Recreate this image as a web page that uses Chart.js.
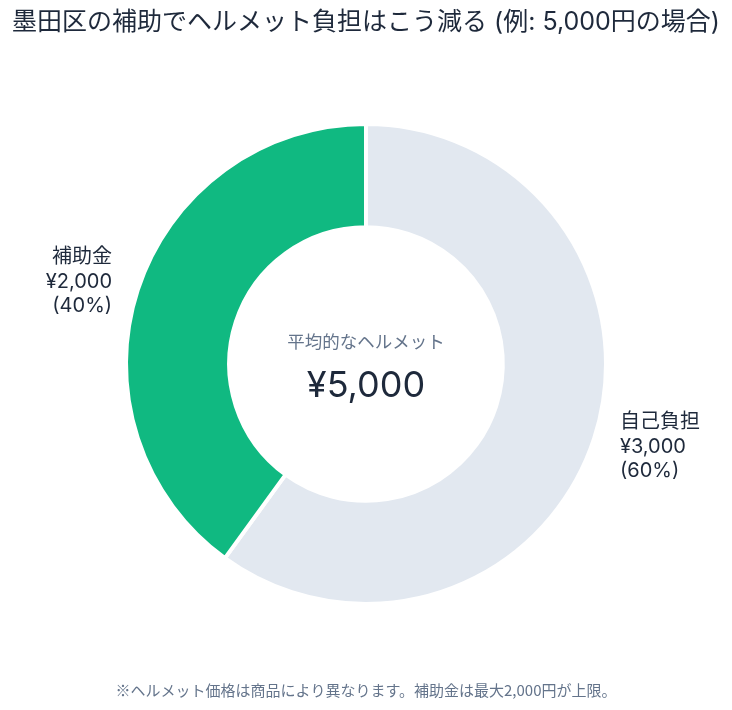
<!DOCTYPE html>
<html lang="ja">
<head>
<meta charset="utf-8">
<title>墨田区の補助でヘルメット負担はこう減る</title>
<script src="https://cdn.jsdelivr.net/npm/chart.js@4.4.1/dist/chart.umd.min.js"></script>
<style>
  html, body { margin: 0; padding: 0; background: #fff; }
  #wrap { width: 732px; height: 710px; }
</style>
</head>
<body>
<div id="wrap"><canvas id="graficoAjuda"></canvas></div>
<script>
// データ（円）
const categorias = ['自己負担', '補助金'];
const valores = [3000, 2000];
const precoMedio = 5000;

const FONTE = "Inter, 'Noto Sans CJK JP', sans-serif";
const corTexto = '#1e293b';
const corSub = '#64748b';

function yen(v) {
  return '¥' + v.toLocaleString('en-US');
}

// 中央のテキスト
const textoCentral = {
  id: 'textoCentral',
  afterDraw(chart) {
    const arc = chart.getDatasetMeta(0).data[0];
    if (!arc) return;
    const { ctx } = chart;
    ctx.save();
    ctx.textAlign = 'center';
    ctx.textBaseline = 'middle';
    ctx.fillStyle = corSub;
    ctx.font = '17.5px ' + FONTE;
    ctx.fillText('平均的なヘルメット', arc.x, arc.y - 21);
    ctx.fillStyle = corTexto;
    ctx.font = '36px ' + FONTE;
    ctx.fillText(yen(precoMedio), arc.x, arc.y + 22);
    ctx.restore();
  }
};

// 外側のラベル（名称・金額・割合）
const rotulosExternos = {
  id: 'rotulosExternos',
  afterDraw(chart) {
    const { ctx } = chart;
    const meta = chart.getDatasetMeta(0);
    const total = valores.reduce((a, b) => a + b, 0);
    ctx.save();
    ctx.font = '20px ' + FONTE;
    ctx.fillStyle = corTexto;
    ctx.textBaseline = 'middle';
    meta.data.forEach((arc, i) => {
      const meio = (arc.startAngle + arc.endAngle) / 2;
      const r = arc.outerRadius + 27;
      const x = arc.x + Math.cos(meio) * r;
      const y = arc.y + Math.sin(meio) * r;
      ctx.textAlign = Math.cos(meio) >= 0 ? 'left' : 'right';
      const linhas = [
        categorias[i],
        yen(valores[i]),
        '(' + Math.round(valores[i] / total * 100) + '%)'
      ];
      linhas.forEach((l, k) => {
        ctx.fillText(l, x, y + (k - 1) * 24.5);
      });
    });
    ctx.restore();
  }
};

const grafico = new Chart(document.getElementById('graficoAjuda'), {
  type: 'doughnut',
  data: {
    labels: categorias,
    datasets: [{
      data: valores,
      backgroundColor: ['#e2e8f0', '#10b981'],
      borderColor: '#ffffff',
      borderWidth: 4,
      hoverOffset: 0
    }]
  },
  options: {
    responsive: true,
    maintainAspectRatio: false,
    animation: false,
    cutout: '57%',
    layout: { padding: { top: 0, bottom: 0, left: 0, right: 0 } },
    plugins: {
      legend: { display: false },
      tooltip: { enabled: false },
      title: {
        display: true,
        text: '墨田区の補助でヘルメット負担はこう減る (例: 5,000円の場合)',
        color: corTexto,
        font: { family: FONTE, size: 25, weight: 'normal' },
        padding: { top: 7, bottom: 85 }
      },
      subtitle: {
        display: true,
        position: 'bottom',
        text: '※ヘルメット価格は商品により異なります。補助金は最大2,000円が上限。',
        color: corSub,
        font: { family: "'Noto Sans CJK JP', Inter, sans-serif", size: 15, weight: 'normal' },
        padding: { top: 75, bottom: 11 }
      }
    }
  },
  plugins: [textoCentral, rotulosExternos]
});
</script>
</body>
</html>
